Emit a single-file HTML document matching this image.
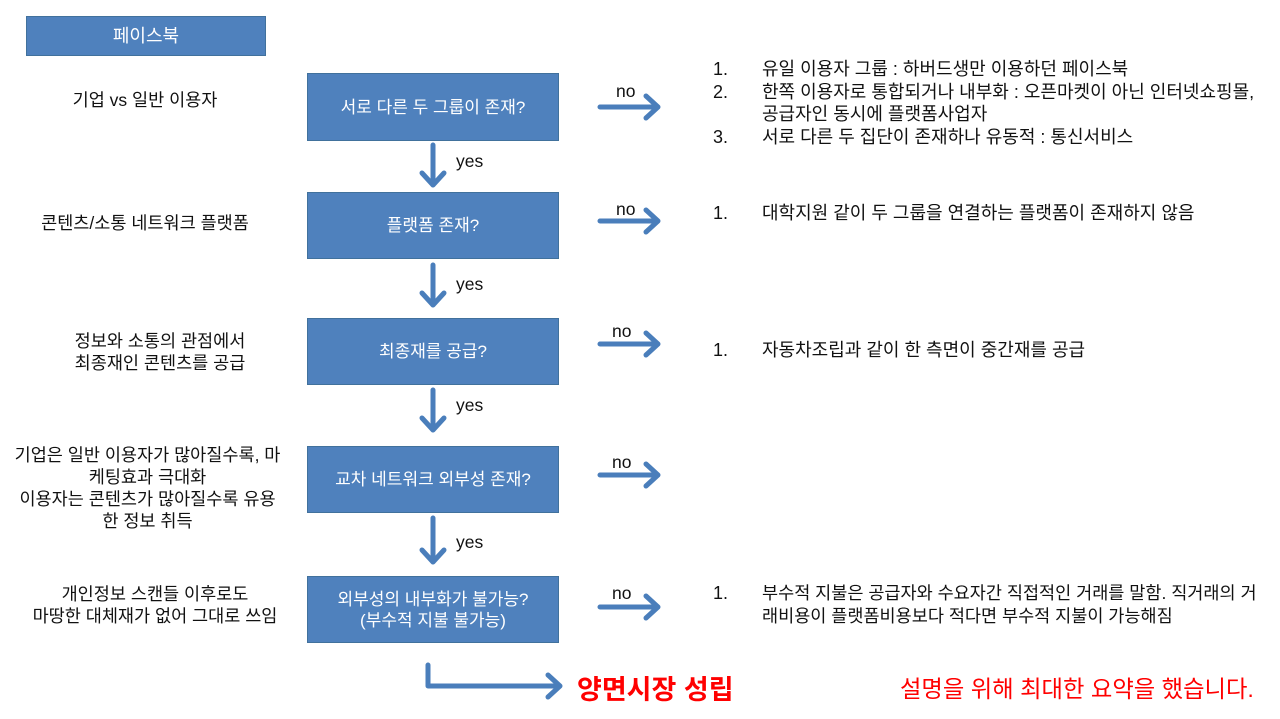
<!DOCTYPE html>
<html><head><meta charset="utf-8"><style>
body{margin:0;width:1280px;height:719px;background:#fff;position:relative;overflow:hidden;font-family:"Liberation Sans","Noto Sans CJK KR",sans-serif;color:#111;font-size:17.5px}
.a{position:absolute;white-space:nowrap}
.box{position:absolute;left:307px;width:252px;background:#4f81bd;border:1px solid #41719c;box-sizing:border-box;color:#fff;display:flex;align-items:center;justify-content:center;text-align:center;line-height:21px;font-size:17px}
.c{text-align:center;line-height:22px}
.n{position:absolute;white-space:nowrap;line-height:22.5px;font-size:18px}
</style></head><body>
<div class="box" style="left:26px;width:240px;top:16px;height:40px;font-size:18px">페이스북</div>
<div class="box" style="top:73px;height:68px">서로 다른 두 그룹이 존재?</div>
<div class="box" style="top:192px;height:67px">플랫폼 존재?</div>
<div class="box" style="top:318px;height:67px">최종재를 공급?</div>
<div class="box" style="top:446px;height:67px">교차 네트워크 외부성 존재?</div>
<div class="box" style="top:576px;height:67px">외부성의 내부화가 불가능?<br>(부수적 지불 불가능)</div>

<div class="a c" style="left:50px;width:190px;top:89px">기업 vs 일반 이용자</div>
<div class="a c" style="left:20px;width:250px;top:212px">콘텐츠/소통 네트워크 플랫폼</div>
<div class="a c" style="left:30px;width:260px;top:330px">정보와 소통의 관점에서<br>최종재인 콘텐츠를 공급</div>
<div class="a c" style="left:0px;width:295px;top:444px">기업은 일반 이용자가 많아질수록, 마<br>케팅효과 극대화<br>이용자는 콘텐츠가 많아질수록 유용<br>한 정보 취득</div>
<div class="a c" style="left:15px;width:280px;top:583px">개인정보 스캔들 이후로도<br>마땅한 대체재가 없어 그대로 쓰임</div>

<svg class="a" style="left:0;top:0" width="1280" height="719">
<g stroke="#4a7ebb" stroke-width="5" fill="none" stroke-linecap="round" stroke-linejoin="round">
<path d="M433 145V185M422 173L433 185L444 173"/>
<path d="M433 265V305M422 293L433 305L444 293"/>
<path d="M433 390V430M422 418L433 430L444 418"/>
<path d="M433 518V562M422 550L433 562L444 550"/>
<path d="M600 107H658M646 96L658 107L646 118"/>
<path d="M600 221H658M646 210L658 221L646 232"/>
<path d="M600 344H658M646 333L658 344L646 355"/>
<path d="M600 475H658M646 464L658 475L646 486"/>
<path d="M600 607H658M646 596L658 607L646 618"/>
<path d="M428 665V686H560M548 675L560 686L548 697"/>
</g></svg>
<div class="a" style="left:456px;top:151px">yes</div>
<div class="a" style="left:456px;top:274px">yes</div>
<div class="a" style="left:456px;top:395px">yes</div>
<div class="a" style="left:456px;top:532px">yes</div>
<div class="a" style="left:616px;top:81px">no</div>
<div class="a" style="left:616px;top:199px">no</div>
<div class="a" style="left:612px;top:321px">no</div>
<div class="a" style="left:612px;top:452px">no</div>
<div class="a" style="left:612px;top:583px">no</div>

<div class="n" style="left:713px;top:58px">1.<br>2.<br><br>3.</div>
<div class="n" style="left:762px;top:58px">유일 이용자 그룹 : 하버드생만 이용하던 페이스북<br>한쪽 이용자로 통합되거나 내부화 : 오픈마켓이 아닌 인터넷쇼핑몰,<br>공급자인 동시에 플랫폼사업자<br>서로 다른 두 집단이 존재하나 유동적 : 통신서비스</div>
<div class="n" style="left:713px;top:202px">1.</div>
<div class="n" style="left:762px;top:202px">대학지원 같이 두 그룹을 연결하는 플랫폼이 존재하지 않음</div>
<div class="n" style="left:713px;top:339px">1.</div>
<div class="n" style="left:762px;top:339px">자동차조립과 같이 한 측면이 중간재를 공급</div>
<div class="n" style="left:713px;top:582px">1.</div>
<div class="n" style="left:762px;top:582px;font-size:17.5px">부수적 지불은 공급자와 수요자간 직접적인 거래를 말함. 직거래의 거<br>래비용이 플랫폼비용보다 적다면 부수적 지불이 가능해짐</div>

<div class="a" style="left:577px;top:668px;font-size:27px;font-weight:bold;color:#f00">양면시장 성립</div>
<div class="a" style="left:900px;top:670px;font-size:23.3px;color:#f00">설명을 위해 최대한 요약을 했습니다.</div>
</body></html>
